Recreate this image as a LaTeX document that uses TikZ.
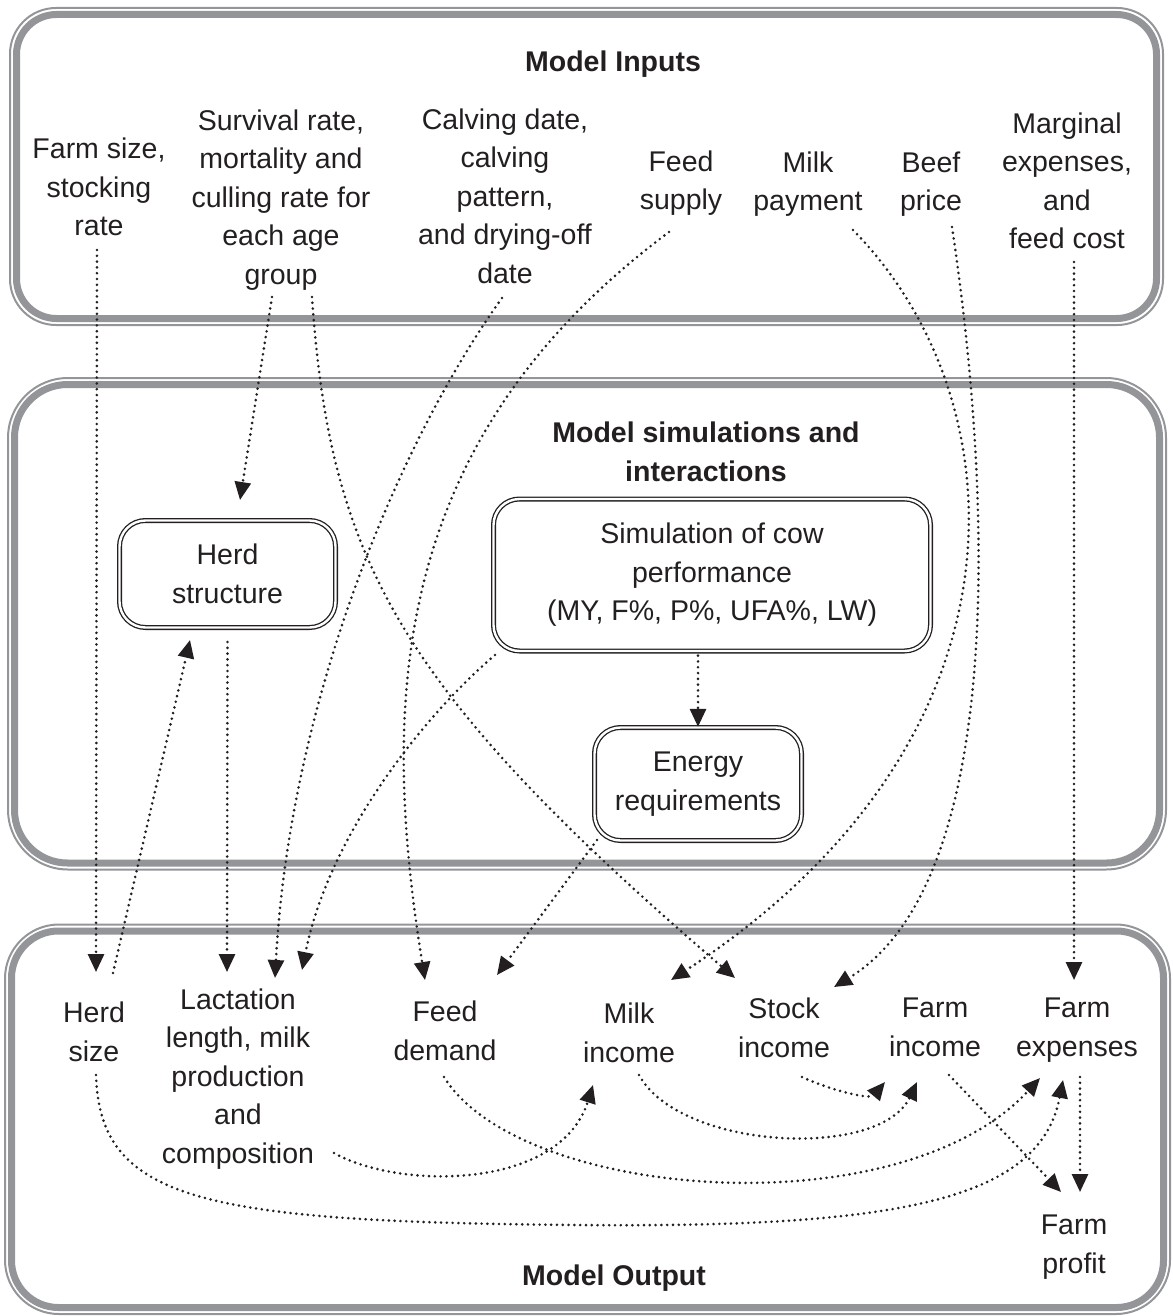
\documentclass[tikz,border=0pt]{standalone}
\usepackage{fontspec}
\setmainfont{Liberation Sans}
\usetikzlibrary{arrows.meta, positioning}

\definecolor{panelgray}{RGB}{148,149,153}
\definecolor{inkblack}{RGB}{35,31,32}

\tikzset{
  lbl/.style = {align=center, inner sep=6pt, text=inkblack,
                font=\fontsize{28.5}{38.5}\selectfont},
  ttl/.style = {lbl, font=\fontsize{28.5}{38.5}\selectfont\bfseries},
  proc/.style = {lbl, draw=inkblack, double=white, double distance=2.4pt,
                 line width=1.3pt, rounded corners=26pt},
  flow/.style = {draw=inkblack, line width=2.9pt, line cap=round,
                 dash pattern=on 0pt off 5.8pt,
                 -{Triangle[length=18pt, width=16pt]}},
  panelthin/.style = {draw=panelgray, line width=2pt},
  panelthick/.style = {draw=panelgray, line width=7pt}
}

\begin{document}
\begin{tikzpicture}[x=1pt, y=-1pt]
  \useasboundingbox (0,0) rectangle (1172,1316);

  % panels
  \draw[panelthin, rounded corners=46pt] (10,8) rectangle (1163,325);
  \draw[panelthick, rounded corners=40pt] (16.5,14.5) rectangle (1156.5,318.5);
  \draw[panelthin, rounded corners=60pt] (8,378) rectangle (1166,869.5);
  \draw[panelthick, rounded corners=53pt] (14.5,384.5) rectangle (1159.5,863);
  \draw[panelthin, rounded corners=54pt] (5,924.5) rectangle (1170,1314);
  \draw[panelthick, rounded corners=47pt] (11.5,931) rectangle (1163.5,1307.5);

  % inputs
  \node[ttl] (intitle) at (613,64) {Model Inputs};
  \node[lbl] (farmsize) at (99,187) {Farm size,\\stocking\\rate};
  \node[lbl] (survival) at (281,200) {Survival rate,\\mortality and\\culling rate for\\each age\\group};
  \node[lbl] (calving) at (505,196) {Calving date,\\calving\\pattern,\\and drying-off\\date};
  \node[lbl] (feedsupply) at (681,183) {Feed\\supply};
  \node[lbl] (milkpay) at (808,184) {Milk\\payment};
  \node[lbl] (beefprice) at (931,184) {Beef\\price};
  \node[lbl] (marginal) at (1067,181) {Marginal\\expenses,\\and\\feed cost};

  % simulations
  \node[ttl] (simtitle) at (706,452) {Model simulations and\\interactions};
  \node[proc, minimum width=216pt, minimum height=107pt] (herdstruct) at (227.5,574) {Herd\\structure};
  \node[proc, minimum width=437pt, minimum height=152pt] (cowsim) at (712,575) {Simulation of cow\\performance\\(MY, F\%, P\%, UFA\%, LW)};
  \node[proc, minimum width=207pt, minimum height=113pt] (energy) at (698,784) {Energy\\requirements};

  % outputs
  \node[lbl] (herdsize) at (94,1032) {Herd\\size};
  \node[lbl] (lactation) at (238,1079) {Lactation\\length, milk\\production\\and\\composition};
  \node[lbl] (feeddemand) at (445,1031) {Feed\\demand};
  \node[lbl] (milkincome) at (629,1033) {Milk\\income};
  \node[lbl] (stockincome) at (784,1028) {Stock\\income};
  \node[lbl] (farmincome) at (935,1027.5) {Farm\\income};
  \node[lbl] (farmexp) at (1077,1030) {Farm\\expenses};
  \node[lbl] (farmprofit) at (1074,1247) {Farm\\profit};
  \node[ttl] (outtitle) at (614,1278) {Model Output};

  % connectors
  \draw[flow] ([shift={(-2,63)}]farmsize.center) -- ([shift={(2,-60)}]herdsize.center);
  \draw[flow] ([shift={(19,-59)}]herdsize.center) -- ([shift={(-37.5,66)}]herdstruct.center);
  \draw[flow] ([shift={(-9,97)}]survival.center) -- ([shift={(12.5,-74)}]herdstruct.center);
  \draw[flow] ([shift={(31,97)}]survival.center) .. controls (330,560) and (400,690) .. ([shift={(-49,-50)}]stockincome.center);
  \draw[flow] ([shift={(0,68)}]herdstruct.center) -- ([shift={(-11,-107)}]lactation.center);
  \draw[flow] ([shift={(-3,102)}]calving.center) .. controls (400,440) and (290,700) .. ([shift={(37,-101)}]lactation.center);
  \draw[flow] ([shift={(-217,80)}]cowsim.center) .. controls (430,710) and (330,830) .. ([shift={(64,-109)}]lactation.center);
  \draw[flow] ([shift={(-12,49)}]feedsupply.center) .. controls (390,440) and (380,700) .. ([shift={(-20,-51)}]feeddemand.center);
  \draw[flow] ([shift={(-101,56)}]energy.center) -- ([shift={(52,-56)}]feeddemand.center);
  \draw[flow, shorten <=4pt] (cowsim.south -| energy.north) -- (energy.north);
  \draw[flow] ([shift={(45,46)}]milkpay.center) .. controls (1020,400) and (1040,740) .. ([shift={(42,-53)}]milkincome.center);
  \draw[flow] ([shift={(21,43)}]beefprice.center) .. controls (990,480) and (1010,880) .. ([shift={(50,-41)}]stockincome.center);
  \draw[flow] ([shift={(7,81)}]marginal.center) -- ([shift={(-3,-50)}]farmexp.center);
  \draw[flow] ([shift={(2,43)}]herdsize.center) .. controls (100,1200) and (200,1222) .. (580,1225)
              .. controls (900,1228) and (1040,1200) .. ([shift={(-14,50)}]farmexp.center);
  \draw[flow] ([shift={(96,74)}]lactation.center) .. controls (400,1190) and (560,1190) .. ([shift={(-36,52)}]milkincome.center);
  \draw[flow] ([shift={(-1,46)}]feeddemand.center) .. controls (520,1200) and (900,1230) .. ([shift={(-37,48)}]farmexp.center);
  \draw[flow] ([shift={(10,42)}]milkincome.center) .. controls (680,1150) and (880,1160) .. ([shift={(-18,54.5)}]farmincome.center);
  \draw[flow] ([shift={(18,49)}]stockincome.center) .. controls (830,1090) and (870,1100) .. ([shift={(-50,54.5)}]farmincome.center);
  \draw[flow] ([shift={(14,47.5)}]farmincome.center) -- ([shift={(-13,-55)}]farmprofit.center);
  \draw[flow] ([shift={(3,47)}]farmexp.center) -- ([shift={(6,-55)}]farmprofit.center);
\end{tikzpicture}
\end{document}
